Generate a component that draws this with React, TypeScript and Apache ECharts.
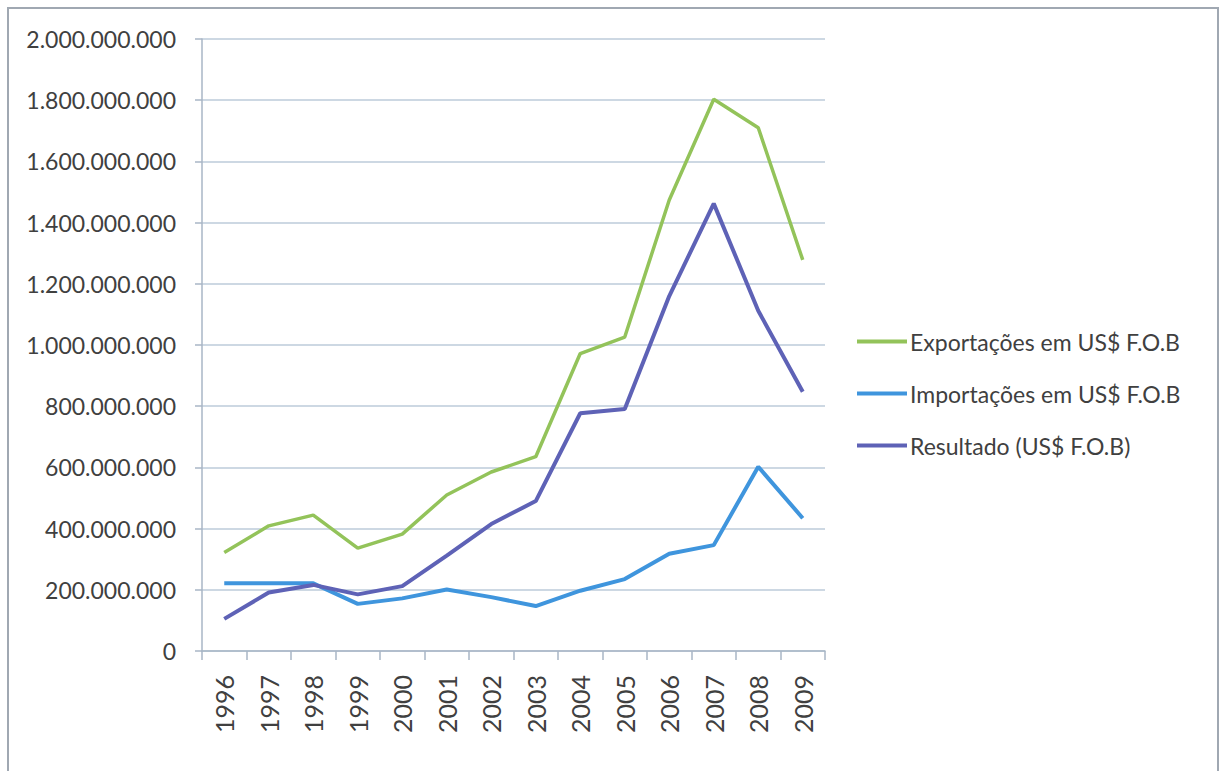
import React, { useEffect, useRef } from "react";
import * as echarts from "echarts";

const years = ["1996", "1997", "1998", "1999", "2000", "2001", "2002", "2003", "2004", "2005", "2006", "2007", "2008", "2009"];
const exportacoes = [322e6, 409e6, 444e6, 336e6, 382e6, 510e6, 585e6, 635e6, 972e6, 1026e6, 1474e6, 1803e6, 1710e6, 1278e6];
const importacoes = [221e6, 221e6, 221e6, 154e6, 172e6, 201e6, 176e6, 147e6, 197e6, 235e6, 318e6, 346e6, 602e6, 434e6];
const resultado = [105e6, 191e6, 216e6, 185e6, 212e6, 312e6, 415e6, 490e6, 777e6, 791e6, 1160e6, 1462e6, 1112e6, 847e6];
const seriesNames = ["Exportações em US$ F.O.B", "Importações em US$ F.O.B", "Resultado (US$ F.O.B)"];
const colors = ["#93C35A", "#3F95DD", "#5E62B6"];

const fmt = (v: number) => String(Math.round(v)).replace(/\B(?=(\d{3})+(?!\d))/g, ".");

export default function App() {
  const ref = useRef<HTMLDivElement>(null);
  useEffect(() => {
    if (!ref.current) return;
    const chart = echarts.init(ref.current, undefined, { renderer: "svg" });
    const font = "Lato";
    chart.setOption({
      animation: false,
      backgroundColor: "#ffffff",
      textStyle: { fontFamily: font },
      grid: { left: 202, right: 399, top: 39, bottom: 120, containLabel: false },
      legend: {
        orient: "vertical",
        left: 852,
        top: 324,
        itemWidth: 50,
        itemHeight: 4,
        itemGap: 27,
        icon: "rect",
        textStyle: { fontFamily: font, fontSize: 23, color: "#404040", lineHeight: 25, padding: [0, 0, 0, -2] },
        data: seriesNames,
      },
      xAxis: {
        type: "category",
        data: years,
        boundaryGap: true,
        axisLine: { lineStyle: { color: "#A8B6C6", width: 1.5 } },
        axisTick: { show: true, length: 9, alignWithLabel: false, lineStyle: { color: "#A8B6C6", width: 1.5 } },
        axisLabel: { rotate: 90, fontSize: 25, color: "#404040", margin: 24, fontFamily: font },
        splitLine: { show: false },
      },
      yAxis: {
        type: "value",
        min: 0,
        max: 2000000000,
        interval: 200000000,
        axisLine: { show: true, lineStyle: { color: "#A8B6C6", width: 1.5 } },
        axisTick: { show: true, length: 7, lineStyle: { color: "#A8B6C6", width: 1.5 } },
        axisLabel: { fontSize: 23, color: "#404040", margin: 26, formatter: fmt, fontFamily: font },
        splitLine: { lineStyle: { color: "#BCCBDA", width: 1.5 } },
      },
      graphic: [
        {
          type: "rect",
          shape: { x: 8, y: 8, width: 1210, height: 800 },
          style: { fill: "none", stroke: "#A0A8B2", lineWidth: 2 },
          silent: true,
        },
      ],
      series: [
        { name: seriesNames[0], type: "line", data: exportacoes, symbol: "none", lineStyle: { width: 3.5, color: colors[0] }, itemStyle: { color: colors[0] } },
        { name: seriesNames[1], type: "line", data: importacoes, symbol: "none", lineStyle: { width: 4, color: colors[1] }, itemStyle: { color: colors[1] } },
        { name: seriesNames[2], type: "line", data: resultado, symbol: "none", lineStyle: { width: 4, color: colors[2] }, itemStyle: { color: colors[2] } },
      ],
    });
    return () => chart.dispose();
  }, []);
  return <div ref={ref} style={{ position: "fixed", left: 0, top: 0, width: 1224, height: 771 }} />;
}
